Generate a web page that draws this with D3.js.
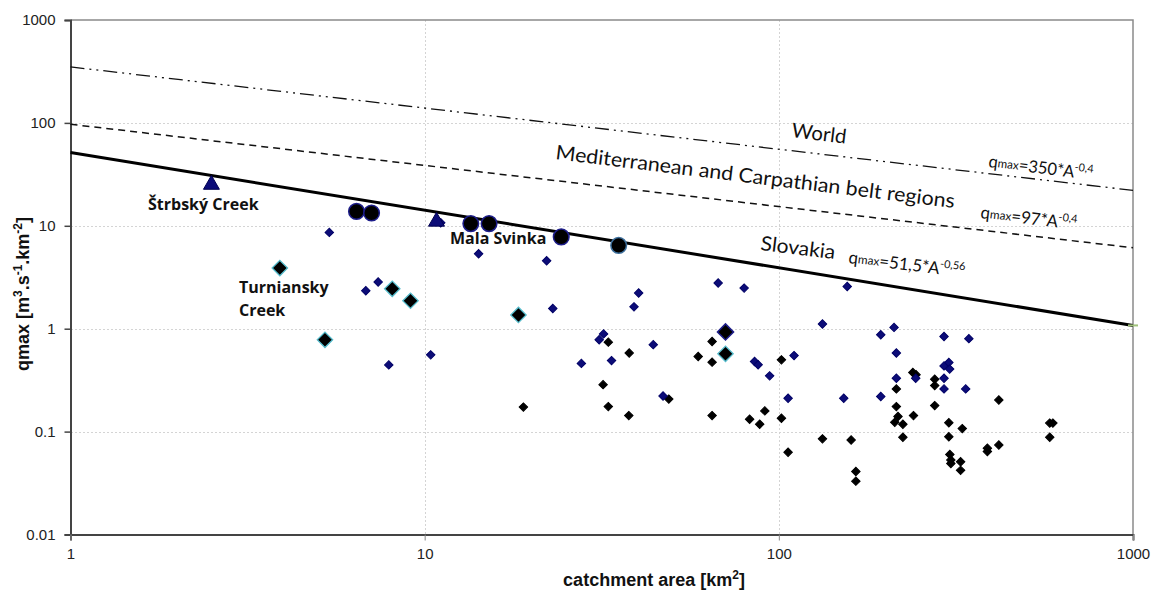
<!DOCTYPE html>
<html>
<head>
  <meta charset="utf-8" />
  <title>qmax vs catchment area</title>
  <script type="text/javascript" src="https://cdn.jsdelivr.net/npm/d3@7/dist/d3.min.js"></script>
  <style type="text/css">
  body {
    margin: 0;
    background: #fff;
    font-family: "Liberation Sans", Arial, sans-serif;
  }
  .tick text {
    font-family: "Liberation Sans", Arial, sans-serif;
    font-size: 15px;
    fill: #222;
  }
  .grid line {
    stroke: #d4d4d4;
    stroke-width: 1px;
    stroke-dasharray: 2,2;
    shape-rendering: crispedges;
  }
  .note {
    font-family: Lato, "Open Sans", sans-serif;
    fill: #111;
  }
  .site {
    font-family: "Open Sans", Lato, sans-serif;
    font-weight: bold;
    font-size: 16px;
    fill: #111;
  }
  .title {
    font-family: "Liberation Sans", Arial, sans-serif;
    font-weight: bold;
    font-size: 18px;
    fill: #111;
  }
  </style>
</head>
<body>
  <script type="text/javascript">
    // envelope curves, values at A = 1 and A = 1000 km2
    var curveArea = [1, 1000]
    var worldQ = [350, 22.08],
        medQ = [97, 6.12],
        slovakiaQ = [51.5, 1.076]

    // measured stations: [area km2, qmax m3.s-1.km-2]
    var smallNavy = [
      [5.38, 8.63], [11.1, 10.7], [7.39, 2.84], [6.82, 2.34], [7.92, 0.445],
      [10.4, 0.557], [14.2, 5.35], [22.1, 4.57], [23.0, 1.57], [40.2, 2.22],
      [39.0, 1.63], [32.0, 0.89], [31.1, 0.78], [44.2, 0.70], [27.7, 0.46],
      [33.7, 0.49], [47.1, 0.222], [67.4, 2.78], [79.8, 2.48], [85.4, 0.48],
      [87.4, 0.446], [94.2, 0.348], [110.4, 0.548], [106.2, 0.211], [132.8, 1.11],
      [156, 2.57], [152.5, 0.211], [194, 0.873], [211.5, 1.03], [214.7, 0.58],
      [292.7, 0.84], [344, 0.80], [214.7, 0.33], [243.5, 0.33], [292.7, 0.435],
      [302, 0.469], [303.6, 0.405], [292.7, 0.33], [292.7, 0.26], [337, 0.26],
      [194, 0.219]
    ]
    var smallBlack = [
      [19.0, 0.173], [31.9, 0.286], [33.0, 0.74], [37.8, 0.58], [33.0, 0.175],
      [37.7, 0.143], [48.9, 0.207], [64.8, 0.751], [59.2, 0.537], [64.8, 0.473],
      [64.8, 0.143], [82.7, 0.132], [88.3, 0.118], [91.3, 0.159], [101.7, 0.498],
      [101.7, 0.135], [106.2, 0.063], [132.8, 0.085], [160, 0.083], [165, 0.041],
      [165, 0.033], [239, 0.375], [244, 0.357], [275.5, 0.323], [275.5, 0.28],
      [214.7, 0.26], [214.7, 0.175], [217, 0.140], [212.5, 0.123], [224, 0.118],
      [240, 0.143], [224, 0.088], [275.5, 0.179], [418, 0.203], [302, 0.122],
      [329.6, 0.107], [302, 0.089], [304, 0.060], [306, 0.053], [306, 0.049],
      [326, 0.051], [326, 0.042], [388, 0.069], [388, 0.064], [418, 0.074],
      [582, 0.121], [594, 0.121], [582, 0.088]
    ]
    var bigCyan = [[3.9, 3.88], [8.1, 2.44], [9.12, 1.87], [5.23, 0.78], [18.4, 1.36], [70.7, 0.57]]
    var bigNavy = [[70.7, 0.93]]
    var circles = [[6.42, 13.8], [7.08, 13.3], [13.5, 10.5], [15.2, 10.5], [24.3, 7.8], [35.3, 6.45]]
    var triangles = [[2.5, 25.1], [10.8, 11.0]]

    var xTicks = [1, 10, 100, 1000],
        yTicks = [0.01, 0.1, 1, 10, 100, 1000],
        yTickLabels = ['0.01', '0.1', '1', '10', '100', '1000']

    var w = 1156, h = 592,
        pL = 70.5, pR = 1133, pT = 20, pB = 534.5

    var x = d3.scaleLog().domain([1, 1000]).range([pL, pR]),
        y = d3.scaleLog().domain([0.01, 1000]).range([pB, pT])

    var svg = d3.select(document.body)
      .append('svg')
      .attr('width', w)
      .attr('height', h)

    // grid
    var grid = svg.append('g').attr('class', 'grid')
    grid.selectAll('line.h')
      .data([0.1, 1, 10, 100])
    .enter().append('line')
      .attr('x1', pL).attr('x2', pR)
      .attr('y1', function(d) { return Math.round(y(d)) + 0.5 })
      .attr('y2', function(d) { return Math.round(y(d)) + 0.5 })
    grid.selectAll('line.v')
      .data([10, 100])
    .enter().append('line')
      .attr('y1', pT).attr('y2', pB)
      .attr('x1', function(d) { return Math.round(x(d)) + 0.5 })
      .attr('x2', function(d) { return Math.round(x(d)) + 0.5 })

    // frame top / right
    svg.append('path')
      .attr('d', 'M' + pL + ',' + pT + 'H' + pR + 'V' + pB)
      .attr('fill', 'none')
      .attr('stroke', '#8a8a8a')
      .attr('stroke-width', 1.5)

    // axes
    var yAxis = d3.axisLeft(y)
      .tickValues(yTicks)
      .tickFormat(function(d, i) { return yTickLabels[i] })
      .tickSize(6)
      .tickPadding(9)
    var xAxis = d3.axisBottom(x)
      .tickValues(xTicks)
      .tickFormat(d3.format('d'))
      .tickSize(6)
      .tickPadding(8)

    svg.append('g')
      .attr('transform', 'translate(' + pL + ',0)')
      .call(yAxis)
      .call(function(g) {
        g.select('.domain').attr('stroke', '#444').attr('stroke-width', 2)
        g.selectAll('.tick line').attr('stroke', '#444').attr('stroke-width', 1.5)
      })
    svg.append('g')
      .attr('transform', 'translate(0,' + pB + ')')
      .call(xAxis)
      .call(function(g) {
        g.select('.domain').attr('stroke', '#444').attr('stroke-width', 2)
        g.selectAll('.tick line').attr('stroke', '#888').attr('stroke-width', 1)
      })

    // envelope lines
    var line = d3.line()
      .x(function(d) { return x(d[0]) })
      .y(function(d) { return y(d[1]) })
    function pairs(q) { return curveArea.map(function(a, i) { return [a, q[i]] }) }

    svg.append('path').datum(pairs(worldQ))
      .attr('d', line).attr('fill', 'none')
      .attr('stroke', '#111').attr('stroke-width', 1.3)
      .attr('stroke-dasharray', '14,5,2,5,2,5')
    svg.append('path').datum(pairs(medQ))
      .attr('d', line).attr('fill', 'none')
      .attr('stroke', '#111').attr('stroke-width', 1.5)
      .attr('stroke-dasharray', '7,5')
    svg.append('path').datum(pairs(slovakiaQ))
      .attr('d', line).attr('fill', 'none')
      .attr('stroke', '#000').attr('stroke-width', 3)
    svg.append('line')
      .attr('x1', x(1000) - 5).attr('x2', x(1000) + 5)
      .attr('y1', y(slovakiaQ[1])).attr('y2', y(slovakiaQ[1]))
      .attr('stroke', '#9fc07a').attr('stroke-width', 2)

    // markers
    function diamonds(data, size, fill, stroke, sw) {
      svg.append('g').selectAll('path')
        .data(data)
      .enter().append('path')
        .attr('d', d3.symbol().type(d3.symbolSquare).size(size))
        .attr('transform', function(d) { return 'translate(' + x(d[0]) + ',' + y(d[1]) + ') rotate(45)' })
        .attr('fill', fill)
        .attr('stroke', stroke)
        .attr('stroke-width', sw)
    }
    diamonds(smallBlack, 36, '#000', '#000', 1)
    diamonds(smallNavy, 36, '#0c0c78', '#000066', 1)
    diamonds(bigCyan, 118, '#000', '#56bccc', 1.3)
    diamonds(bigNavy, 130, '#000', '#1d1d8a', 1.5)

    svg.append('g').selectAll('circle')
      .data(circles)
    .enter().append('circle')
      .attr('cx', function(d) { return x(d[0]) })
      .attr('cy', function(d) { return y(d[1]) })
      .attr('r', 7.8)
      .attr('fill', '#000')
      .attr('stroke', function(d, i) { return i == 5 ? '#3d6f9c' : '#1d1d8a' })
      .attr('stroke-width', 1.5)

    svg.append('g').selectAll('path')
      .data(triangles)
    .enter().append('path')
      .attr('d', d3.symbol().type(d3.symbolTriangle).size(110))
      .attr('transform', function(d) { return 'translate(' + x(d[0]) + ',' + y(d[1]) + ')' })
      .attr('fill', '#0c0c78')
      .attr('stroke', '#000050')
      .attr('stroke-width', 1)

    // curve labels
    function note(tx, ty, size, str, len) {
      var t = svg.append('text')
        .attr('class', 'note')
        .attr('transform', 'translate(' + tx + ',' + ty + ') rotate(7)')
        .attr('font-size', size)
        .text(str)
      if (len) t.attr('textLength', len).attr('lengthAdjust', 'spacingAndGlyphs')
    }
    note(791, 137, 20, 'World', 55)
    note(555, 159, 20, 'Mediterranean and Carpathian belt regions', 402)
    note(760, 250, 20, 'Slovakia', 75)

    function formula(tx, ty, coef, expo, len) {
      var t = svg.append('text')
        .attr('class', 'note')
        .attr('transform', 'translate(' + tx + ',' + ty + ') rotate(7)')
        .attr('font-size', 17)
        .attr('textLength', len)
        .attr('lengthAdjust', 'spacingAndGlyphs')
      t.append('tspan').text('q')
      t.append('tspan').attr('font-size', 12).attr('dy', -1).text('max')
      t.append('tspan').attr('dy', 1).text('=' + coef + '*A')
      t.append('tspan').attr('font-size', 11).attr('dy', -7).text(expo)
    }
    formula(988, 167, '350', '-0,4', 105)
    formula(980, 218, '97', '-0,4', 97)
    formula(848, 263, '51,5', '-0,56', 117)

    // station labels
    svg.append('text').attr('class', 'site').attr('x', 148).attr('y', 210).text('Štrbský Creek')
    svg.append('text').attr('class', 'site').attr('x', 239).attr('y', 293).text('Turniansky')
    svg.append('text').attr('class', 'site').attr('x', 239).attr('y', 316).text('Creek')
    svg.append('text').attr('class', 'site').attr('x', 450).attr('y', 244).text('Mala Svinka')

    // axis titles
    var xt = svg.append('text').attr('class', 'title')
      .attr('x', 654).attr('y', 586).attr('text-anchor', 'middle')
    xt.append('tspan').text('catchment area [km')
    xt.append('tspan').attr('font-size', 12).attr('dy', -7).text('2')
    xt.append('tspan').attr('dy', 7).text(']')

    var yt = svg.append('text').attr('class', 'title')
      .attr('transform', 'translate(29,294) rotate(-90)')
      .attr('text-anchor', 'middle')
    yt.append('tspan').text('qmax [m')
    yt.append('tspan').attr('font-size', 12).attr('dy', -7).text('3')
    yt.append('tspan').attr('dy', 7).text('.s')
    yt.append('tspan').attr('font-size', 12).attr('dy', -7).text('-1')
    yt.append('tspan').attr('dy', 7).text('.km')
    yt.append('tspan').attr('font-size', 12).attr('dy', -7).text('-2')
    yt.append('tspan').attr('dy', 7).text(']')
  </script>
</body>
</html>
